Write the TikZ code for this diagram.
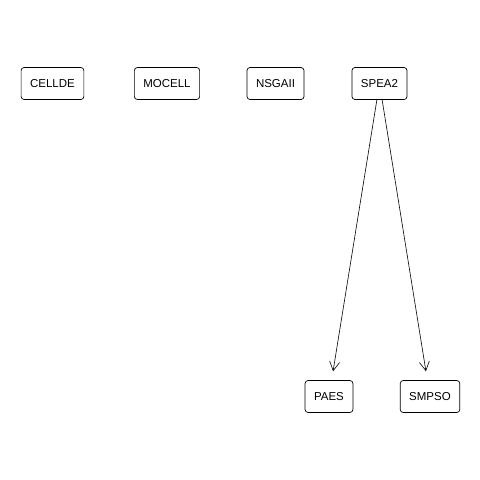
\documentclass[tikz,border=0pt]{standalone}
\usepackage{fontspec}
\setmainfont{Liberation Sans}
\usepackage{tikz}
\usetikzlibrary{positioning,arrows.meta}

\tikzset{
  algo/.style={draw, rounded corners=3pt, line width=0.7pt, fill=white,
    minimum height=32pt, inner xsep=9pt, font=\fontsize{11.5}{13}\selectfont},
  flecha/.style={line width=0.6pt, -{Straight Barb[length=9pt,width=10pt]}, shorten >=9pt}
}

\begin{document}
\begin{tikzpicture}[x=1pt,y=-1pt]
    \useasboundingbox (0,0) rectangle (480,480);
    % Definimos los algoritmos
    \foreach \n/\x/\y/\t in {celld/52.5/83.5/CELLDE, mocell/167/83.5/MOCELL,
        nsgaii/275.5/83.5/NSGAII, spea/379.5/83.5/SPEA2,
        paes/329/396.5/PAES, smpso/430/396.5/SMPSO} {
        \node[algo] (\n) at (\x,\y) {\t};
    }

    % Dibujamos las aristas
    \foreach \j in {paes,smpso} {
        \draw[flecha] (spea) -- (\j);
    }
\end{tikzpicture}
\end{document}
